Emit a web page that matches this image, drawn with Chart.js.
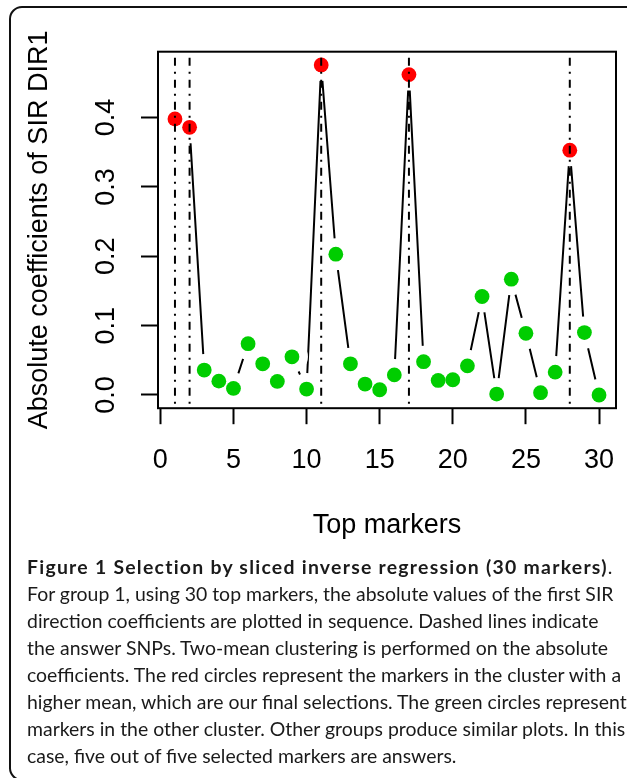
<!DOCTYPE html>
<html>
<head>
<meta charset="utf-8">
<script src="https://cdn.jsdelivr.net/npm/chart.js@4.4.1/dist/chart.umd.min.js"></script>
<style>
  html, body { margin: 0; padding: 0; background: #fff; width: 627px; height: 778px; overflow: hidden; }
  #wrap { position: absolute; left: 0; top: 0; width: 632px; height: 560px; }
  #frame { position: absolute; left: 9px; top: 6px; width: 640px; height: 771px; border: 2px solid #111; border-radius: 13px; pointer-events: none; }
  #caption { position: absolute; left: 27px; top: 553px; font-family: Lato, "Open Sans", sans-serif; color: #1a1a1a; line-height: 27px; white-space: nowrap; font-size: 19px; }
  #caption div { height: 27px; }
  #caption b { font-weight: 700; }
</style>
</head>
<body>
<div id="wrap"><canvas id="c" width="632" height="560"></canvas></div>
<div id="caption">
  <div><span id="l1"><b>Figure 1 Selection by sliced inverse regression (30 markers)</b>.</span></div>
  <div><span id="l2">For group 1, using 30 top markers, the absolute values of the first SIR</span></div>
  <div><span>direction coefficients are plotted in sequence. Dashed lines indicate</span></div>
  <div><span>the answer SNPs. Two-mean clustering is performed on the absolute</span></div>
  <div><span>coefficients. The red circles represent the markers in the cluster with a</span></div>
  <div><span>higher mean, which are our final selections. The green circles represent</span></div>
  <div><span>markers in the other cluster. Other groups produce similar plots. In this</span></div>
  <div><span>case, five out of five selected markers are answers.</span></div>
</div>
<div id="frame"></div>
<script>
// ---- data ----
const markerIndex = [1,2,3,4,5,6,7,8,9,10,11,12,13,14,15,16,17,18,19,20,21,22,23,24,25,26,27,28,29,30];
const coefficients = [0.398,0.386,0.036,0.020,0.0095,0.074,0.045,0.0196,0.055,0.0086,
                      0.476,0.203,0.045,0.0158,0.0076,0.029,0.462,0.048,0.021,0.022,
                      0.042,0.142,0.0014,0.167,0.089,0.0033,0.033,0.353,0.090,0.000];
const selectedMarkers = [1,2,11,17,28];   // high-mean cluster (red)
const answerSNPs = [1,2,11,17,28];        // dashed vertical lines
const xTickValues = [0,5,10,15,20,25,30];
const yTickValues = [0.0,0.1,0.2,0.3,0.4];
const xLabel = 'Top markers';
const yLabel = 'Absolute coefficients of SIR DIR1';

// ---- derived ----
const RED = '#FF0000', GREEN = '#00CD00';
const pts = markerIndex.map((m, i) => ({ x: m, y: coefficients[i] }));
const pointColors = markerIndex.map(m => selectedMarkers.includes(m) ? RED : GREEN);

// R-style 4% axis extension
const xMin = 1 - 0.04 * 29, xMax = 30 + 0.04 * 29;
const yDataMax = Math.max(...coefficients), yDataMin = Math.min(...coefficients);
const yR = yDataMax - yDataMin;
const yMin = yDataMin - 0.04 * yR, yMax = yDataMax + 0.04 * yR;

const FONT = 'Liberation Sans, Arial, Helvetica, sans-serif';

const datasets = [
  { // connecting line
    data: pts, borderColor: '#000', borderWidth: 2, pointRadius: 0, tension: 0, fill: false, order: 4, clip: 0 },
  { // white gaps around the points (R type = "b")
    data: pts, showLine: false, pointRadius: 16, pointBackgroundColor: '#fff', pointBorderWidth: 0,
    pointBorderColor: 'rgba(0,0,0,0)', order: 3, clip: 0 },
  { // markers
    data: pts, showLine: false, pointRadius: 7.4, pointBackgroundColor: pointColors, pointBorderWidth: 0,
    pointBorderColor: 'rgba(0,0,0,0)', order: 2, clip: 0 }
];
answerSNPs.forEach(a => {
  datasets.push({
    data: [{ x: a, y: yMax }, { x: a, y: yMin }],
    borderColor: '#000', borderWidth: 2, borderDash: [8, 6, 2, 6], borderDashOffset: 16,
    pointRadius: 0, tension: 0, fill: false, order: 1, clip: 0
  });
});

const boxPlugin = {
  id: 'box',
  afterDraw(chart) {
    const { ctx, chartArea: a } = chart;
    ctx.save();
    ctx.strokeStyle = '#000';
    ctx.lineWidth = 2;
    ctx.strokeRect(a.left, a.top, a.right - a.left, a.bottom - a.top);
    ctx.restore();
  }
};

const CANVAS_H = 560;
const AREA_LEFT = 158, AREA_BOTTOM = 408.2;

new Chart(document.getElementById('c'), {
  type: 'line',
  data: { datasets },
  plugins: [boxPlugin],
  options: {
    responsive: false,
    devicePixelRatio: 1,
    animation: false,
    events: [],
    layout: { padding: { left: 0, top: 51.7, right: 6, bottom: 0 } },
    plugins: { legend: { display: false }, tooltip: { enabled: false } },
    scales: {
      x: {
        type: 'linear', min: xMin, max: xMax,
        afterBuildTicks: s => { s.ticks = xTickValues.map(v => ({ value: v })); },
        afterFit: s => { s.height = CANVAS_H - AREA_BOTTOM; s.paddingLeft = 0; s.paddingRight = 0; },
        grid: { display: true, drawOnChartArea: false, drawTicks: true, tickLength: 16, tickWidth: 2, tickColor: '#000' },
        border: { display: false },
        ticks: { color: '#000', font: { family: FONT, size: 27 }, padding: 20, maxRotation: 0, minRotation: 0,
                 callback: v => String(v) },
        title: { display: true, text: xLabel, color: '#000', font: { family: FONT, size: 27 }, padding: { top: 0, bottom: 18 } }
      },
      y: {
        type: 'linear', min: yMin, max: yMax,
        afterBuildTicks: s => { s.ticks = yTickValues.map(v => ({ value: v })); },
        afterFit: s => { s.width = AREA_LEFT; s.paddingTop = 0; s.paddingBottom = 0; },
        grid: { display: true, drawOnChartArea: false, drawTicks: true, tickLength: 17, tickWidth: 2, tickColor: '#000' },
        border: { display: false },
        ticks: { color: '#000', font: { family: FONT, size: 27 }, padding: 16, minRotation: 90, maxRotation: 90,
                 crossAlign: 'center', callback: v => Number(v).toFixed(1) },
        title: { display: true, text: yLabel, color: '#000', font: { family: FONT, size: 27 }, padding: { top: 23, bottom: 0 } }
      }
    }
  }
});

// ---- fit caption text width to the reference ----
function fitCaption() {
  const cap = document.getElementById('caption');
  const l1 = document.getElementById('l1'), l2 = document.getElementById('l2');
  cap.style.fontSize = '20px';
  l1.style.letterSpacing = '0px';
  const w2 = l2.getBoundingClientRect().width;
  const fs = 20 * 587 / w2;
  cap.style.fontSize = fs + 'px';
  const w1 = l1.getBoundingClientRect().width;
  const n1 = l1.textContent.length;
  l1.style.letterSpacing = ((587 - w1) / n1) + 'px';
}
fitCaption();
if (document.fonts && document.fonts.ready) document.fonts.ready.then(fitCaption);
</script>
</body>
</html>
